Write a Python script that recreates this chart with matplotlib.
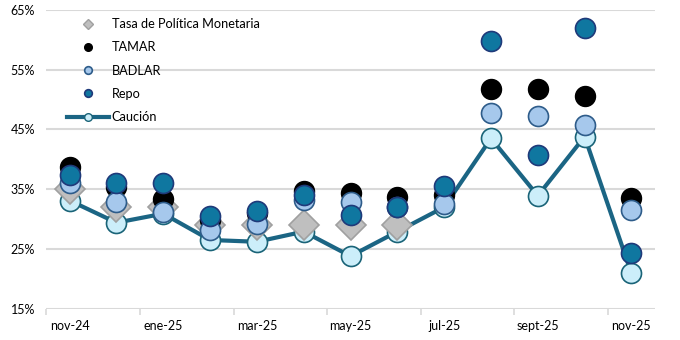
import matplotlib
matplotlib.use("Agg")
import matplotlib.pyplot as plt
from matplotlib.lines import Line2D
import numpy as np

plt.rcParams['font.family'] = ['Lato', 'DejaVu Sans']

months = ["nov-24", "dic-24", "ene-25", "feb-25", "mar-25", "abr-25", "may-25",
          "jun-25", "jul-25", "ago-25", "sept-25", "oct-25", "nov-25"]

# tasas en %
tpm = [35, 32, 32, 29, 29, 29, 29, 29, np.nan, np.nan, np.nan, np.nan, np.nan]
tamar = [38.7, 35.4, 33.4, 29.8, 31.0, 34.7, 34.3, 33.7, 34.0, 51.8, 51.8, 50.6, 33.6]
badlar = [36.0, 32.9, 31.2, 28.1, 29.2, 33.2, 32.8, 32.0, 32.5, 47.8, 47.3, 45.7, 31.5]
repo = [37.4, 36.0, 36.1, 30.5, 31.4, 34.0, 30.6, 32.1, 35.5, 59.8, 40.7, 62.0, 24.3]
caucion = [33.1, 29.4, 30.9, 26.5, 26.2, 27.9, 23.8, 27.9, 32.0, 43.5, 33.9, 43.8, 20.9]

yticks = [15, 25, 35, 45, 55, 65]

x = np.arange(len(months))

fig = plt.figure(figsize=(6.8, 3.4), dpi=100)
ax = fig.add_axes([0.068, 0.092, 0.895, 0.879])

circ = 14.4
ax.plot(x, caucion, color='#1B6584', lw=3, marker='o', ms=circ,
        mfc='#CCEEFA', mec='#1A6478', mew=1.2, zorder=3)
ax.plot(x, tpm, ls='none', marker='D', ms=15.3, mfc='#BFBFBF', mec='#A0A0A0',
        mew=1.2, zorder=4)
ax.plot(x, tamar, ls='none', marker='o', ms=circ, mfc='black', mec='black', zorder=5)
ax.plot(x, badlar, ls='none', marker='o', ms=circ, mfc='#A6C8EC', mec='#2E5C8A',
        mew=1.2, zorder=6)
ax.plot(x, repo, ls='none', marker='o', ms=circ, mfc='#0F77A0', mec='#1F3A7A',
        mew=1.2, zorder=7)

ax.set_ylim(15, 65)
ax.set_xlim(-0.5, len(months) - 0.5)
ax.set_yticks(yticks)
ax.set_yticklabels([f"{v}%" for v in yticks])
ax.set_xticks(x[::2])
ax.set_xticklabels(months[::2])
ax.set_xticks(np.arange(-0.5, len(months) - 1, 2), minor=True)
ax.tick_params(axis='x', which='major', length=0, pad=8, labelsize=9)
ax.tick_params(axis='x', which='minor', length=4, color='#D9D9D9', width=1.2)
ax.tick_params(axis='y', length=0, pad=8, labelsize=9)
for s in ax.spines.values():
    s.set_visible(False)
ax.yaxis.grid(True, color='#D9D9D9', lw=1.5, zorder=0)
ax.set_axisbelow(True)

handles = [
    Line2D([], [], ls='none', marker='D', ms=5, mfc='#BFBFBF', mec='#A0A0A0'),
    Line2D([], [], ls='none', marker='o', ms=5.5, mfc='black', mec='black'),
    Line2D([], [], ls='none', marker='o', ms=5.5, mfc='#A6C8EC', mec='#2E5C8A', mew=1.2),
    Line2D([], [], ls='none', marker='o', ms=5.5, mfc='#0F77A0', mec='#1F3A7A', mew=1.2),
    Line2D([], [], color='#1B6584', lw=3, marker='o', ms=5.5, mfc='#CCEEFA', mec='#1A6478'),
]
labels = ["Tasa de Política Monetaria", "TAMAR", "BADLAR", "Repo", "Caución"]
ax.legend(handles, labels, loc='upper left', bbox_to_anchor=(0.034, 0.972),
          frameon=False, fontsize=9.2, handlelength=3.3, handletextpad=0.2,
          labelspacing=0.88, borderpad=0, borderaxespad=0)

fig.savefig("out.png", dpi=100)
